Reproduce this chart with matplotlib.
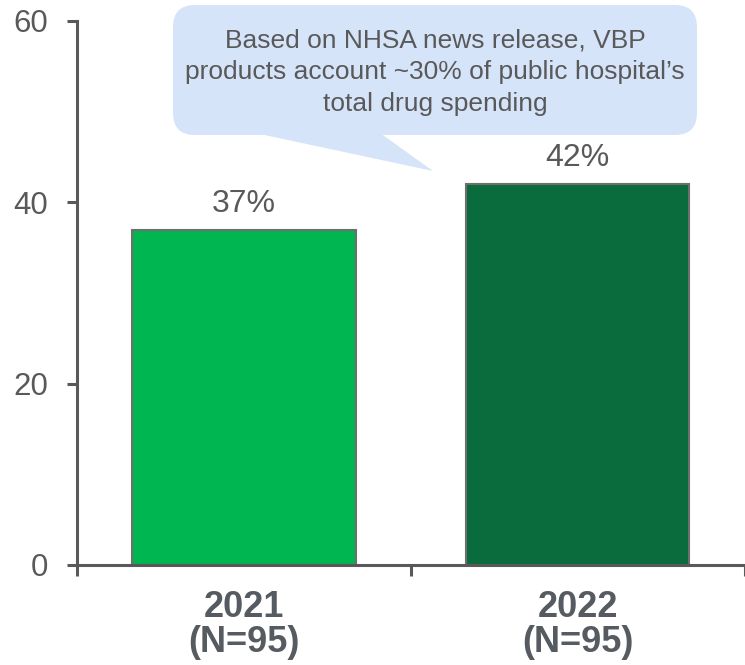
import matplotlib.pyplot as plt
from matplotlib.patches import FancyBboxPatch, Polygon

# data
years = ['2021\n(N=95)', '2022\n(N=95)']
share = [37, 42]
bar_colors = ['#00B650', '#0A6B3C']
note = ("Based on NHSA news release, VBP\n"
        "products account ~30% of public hospital\u2019s\n"
        "total drug spending")

plt.rcParams['font.family'] = ['Liberation Sans', 'DejaVu Sans']
axis_col = '#595959'
text_col = '#555B60'

fig = plt.figure(figsize=(7.45, 6.65), dpi=100)
ax = fig.add_axes([77 / 745, 1 - 565 / 665, (744.5 - 77) / 745, (565 - 21) / 665])

x = list(range(len(share)))
bars = ax.bar(x, share, width=0.67, color=bar_colors, edgecolor='#6E6E6E', linewidth=1.5, zorder=2)

# value labels above bars
for xi, v in zip(x, share):
    ax.text(xi, v + 1.2, '%d%%' % v, ha='center', va='bottom', fontsize=23, color=axis_col)

ax.set_xlim(-0.5, 1.5)
ax.set_ylim(0, 60)
ax.set_yticks([0, 20, 40, 60])

# category labels on major ticks, visible tick marks between categories
ax.set_xticks(x)
ax.set_xticklabels(years, fontsize=26, fontweight='bold', color=text_col, linespacing=1.0)
ax.tick_params(axis='x', which='major', length=0, pad=18)
ax.set_xticks([-0.5, 0.5, 1.5], minor=True)
ax.tick_params(axis='x', which='minor', length=8, width=2.2, color=axis_col)
ax.tick_params(axis='y', length=7, width=2.2, color=axis_col, labelsize=22.5, labelcolor=axis_col, pad=14)

for side in ['top', 'right']:
    ax.spines[side].set_visible(False)
for side in ['left', 'bottom']:
    ax.spines[side].set_color(axis_col)
    ax.spines[side].set_linewidth(2.2)

# speech-bubble style callout (inch coordinates)
bubble_col = '#D6E4FA'
tr = fig.dpi_scale_trans
box = FancyBboxPatch((1.73, 5.30), 5.24, 1.30, boxstyle='round,pad=0,rounding_size=0.22',
                     facecolor=bubble_col, edgecolor='none', transform=tr, zorder=3)
fig.add_artist(box)
tail = Polygon([(2.55, 5.32), (3.80, 5.32), (4.33, 4.94)], closed=True,
               facecolor=bubble_col, edgecolor='none', transform=tr, zorder=3)
fig.add_artist(tail)
fig.text(4.35, 5.93, note, transform=tr, ha='center', va='center', fontsize=19,
         color=axis_col, linespacing=1.4, zorder=4)

fig.savefig('out.png', dpi=100)
